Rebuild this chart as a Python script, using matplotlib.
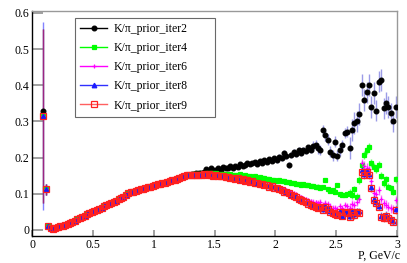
import numpy as np
import matplotlib
matplotlib.use('Agg')
import matplotlib.pyplot as plt
from matplotlib.lines import Line2D

plt.rcParams['font.family'] = ['Liberation Serif', 'DejaVu Serif']

# first three bins (P = 0.09, 0.11, 0.13)
head_iter2 = [0.330, 0.113, 0.012]
head_other = [0.315, 0.113, 0.012]

# P = 0.15 ... 1.29, all iterations agree here
low_common = [
    .005, .004, .005, .007, .010, .012, .015, .017, .020, .023,
    .026, .029, .033, .036, .039, .043, .046, .049, .052, .055,
    .059, .062, .065, .068, .072, .075, .078, .081, .085, .088,
    .092, .096, .101, .104, .106, .108, .110, .112, .114, .116,
    .118, .120, .122, .124, .126, .127, .129, .131, .133, .135,
    .137, .139, .141, .143, .146, .149, .151, .152,
]

# P = 1.31 ... 2.99
high_iter2 = [
    .155, .156, .157, .157, .158, .160, .168, .163, .170, .165,
    .167, .171, .166, .175, .170, .172, .176, .171, .178, .175,
    .182, .176, .180, .185, .181, .184, .188, .183, .190, .186,
    .193, .189, .196, .192, .198, .194, .203, .199, .212, .204,
    .180, .208, .215, .210, .220, .213, .222, .217, .228, .221,
    .232, .235, .226, .221, .276, .262, .249, .216, .207, .244,
    .205, .220, .235, .268, .272, .226, .276, .295, .300, .320,
    .400, .360, .380, .400, .340, .378, .330, .410, .414, .336,
    .350, .340, .322, .300, .340,
]
high_iter4 = [
    .153, .154, .154, .155, .155, .156, .157, .157, .158, .157,
    .157, .156, .155, .154, .155, .153, .154, .152, .153, .151,
    .155, .150, .151, .149, .150, .147, .148, .145, .146, .143,
    .144, .140, .141, .138, .139, .136, .137, .134, .135, .132,
    .133, .129, .130, .127, .128, .125, .126, .123, .124, .121,
    .122, .119, .120, .116, .118, .138, .112, .108, .110, .106,
    .124, .100, .098, .097, .099, .103, .096, .112, .092, .138,
    .180, .207, .220, .230, .185, .175, .168, .180, .150, .130,
    .140, .120, .115, .106, .140,
]
high_iter6 = [
    .152, .153, .153, .153, .152, .154, .153, .155, .153, .151,
    .152, .151, .149, .149, .147, .148, .145, .146, .142, .144,
    .140, .141, .138, .138, .135, .136, .132, .133, .130, .130,
    .127, .128, .124, .124, .121, .120, .117, .116, .112, .110,
    .108, .104, .102, .099, .094, .092, .089, .086, .084, .081,
    .078, .076, .074, .077, .069, .075, .071, .066, .062, .060,
    .058, .066, .060, .069, .066, .062, .071, .069, .078, .087,
    .184, .178, .172, .168, .135, .102, .100, .110, .085, .074,
    .070, .064, .060, .058, .083,
]
high_iter8 = [
    .152, .153, .153, .153, .151, .154, .152, .155, .153, .151,
    .152, .150, .149, .149, .146, .147, .145, .145, .141, .143,
    .139, .140, .136, .137, .134, .134, .130, .131, .128, .128,
    .125, .125, .121, .121, .118, .116, .113, .111, .107, .105,
    .102, .098, .095, .091, .087, .083, .080, .077, .074, .071,
    .068, .066, .063, .066, .057, .066, .060, .052, .048, .046,
    .043, .052, .040, .052, .048, .039, .052, .043, .052, .052,
    .165, .156, .164, .155, .118, .086, .077, .067, .040, .035,
    .042, .035, .031, .026, .058,
]
high_iter9 = [
    .152, .153, .152, .153, .151, .154, .152, .155, .153, .150,
    .152, .150, .148, .149, .146, .147, .144, .145, .141, .143,
    .138, .140, .136, .137, .133, .134, .130, .131, .127, .128,
    .124, .125, .120, .121, .117, .115, .112, .110, .106, .104,
    .101, .097, .094, .090, .085, .082, .079, .076, .073, .070,
    .067, .064, .062, .064, .055, .064, .058, .050, .046, .044,
    .041, .050, .038, .050, .046, .037, .050, .041, .050, .048,
    .161, .152, .161, .152, .115, .083, .074, .064, .037, .032,
    .040, .032, .028, .023, .055,
]

# error size by momentum range (upper bounds)
err_bounds = [0.10, 0.12, 1.6, 2.0, 2.3, 2.6, 3.1]
err_iter2 = [0.005, 0.015, 0.002, 0.004, 0.008, 0.015, 0.03]
err_iter4 = [0.24, 0.015, 0.002, 0.003, 0.004, 0.006, 0.010]
err_iter6 = [0.24, 0.015, 0.002, 0.003, 0.005, 0.008, 0.012]
err_iter8 = [0.26, 0.015, 0.002, 0.003, 0.004, 0.006, 0.010]
err_iter9 = [0.24, 0.015, 0.002, 0.003, 0.004, 0.006, 0.010]

labels = ['K/π_prior_iter2', 'K/π_prior_iter4', 'K/π_prior_iter6',
          'K/π_prior_iter8', 'K/π_prior_iter9']

series = [
    (head_iter2 + low_common + high_iter2, err_iter2),
    (head_other + low_common + high_iter4, err_iter4),
    (head_other + low_common + high_iter6, err_iter6),
    (head_other + low_common + high_iter8, err_iter8),
    (head_other + low_common + high_iter9, err_iter9),
]
for vals, _ in series:
    assert len(vals) == 146, len(vals)

styles = [
    dict(marker='o', mfc='black', mec='black', ms=3.4, ecolor='#5a5ad8', line='black'),
    dict(marker='s', mfc='#00ff00', mec='#00ff00', ms=3.2, ecolor='#00ff00', line='#00ff00'),
    dict(marker='+', mfc='#ff00ff', mec='#ff00ff', ms=3.2, ecolor='#ff00ff', line='#ff00ff'),
    dict(marker='^', mfc='#1a1aff', mec='#1a1aff', ms=3.3, ecolor='#3030ff', line='#3030ff'),
    dict(marker='s', mfc='none', mec='#ff2020', ms=3.8, ecolor='#c01040', line='#ff6060'),
]

fig = plt.figure(figsize=(4.07, 2.63), dpi=100)
ax = fig.add_axes([0.0794, 0.1027, 0.8960, 0.8566])

for (vals, errs), st in zip(series, styles):
    p = np.round(0.09 + 0.02 * np.arange(len(vals)), 2)
    e = np.array(errs)[np.searchsorted(err_bounds, p)]
    ax.errorbar(p, vals, yerr=e, fmt='none', ecolor=st['ecolor'], elinewidth=1.0, alpha=0.6, zorder=2)
    ax.plot(p, vals, ls='none', marker=st['marker'], ms=st['ms'], mfc=st['mfc'], mec=st['mec'],
            mew=0.9, zorder=3)

ax.set_xlim(0, 3.0)
ax.set_ylim(-0.0166, 0.606)
ax.set_xticks([0, 0.5, 1, 1.5, 2, 2.5, 3])
ax.set_xticklabels(['0', '0.5', '1', '1.5', '2', '2.5', '3'])
ax.set_yticks([0, 0.1, 0.2, 0.3, 0.4, 0.5, 0.6])
ax.set_yticklabels(['0', '0.1', '0.2', '0.3', '0.4', '0.5', '0.6'])
ax.tick_params(axis='both', direction='in', color='#999999', width=1.3, labelsize=8.5, pad=2)
ax.tick_params(axis='y', length=8)
ax.tick_params(axis='x', length=4.5)
for side in ['left', 'bottom']:
    ax.spines[side].set_color('black')
    ax.spines[side].set_linewidth(1.0)
for side in ['top', 'right']:
    ax.spines[side].set_color('#999999')
    ax.spines[side].set_linewidth(1.0)

fig.text(0.983, 0.027, 'P, GeV/c', ha='right', va='center', fontsize=8.5)

handles = [Line2D([], [], color=st['line'], lw=1.0, marker=st['marker'], ms=st['ms'],
                  mfc=st['mfc'], mec=st['mec'], mew=0.9) for st in styles]
leg = ax.legend(handles, labels, loc='upper left', bbox_to_anchor=(0.117, 0.5, 0.384, 0.468),
                mode='expand', borderaxespad=0, fontsize=8.5, frameon=True, fancybox=False,
                handlelength=2.3, handletextpad=0.5, labelspacing=0.6, borderpad=0.45)
leg.get_frame().set_edgecolor('#444444')
leg.get_frame().set_linewidth(0.8)

plt.savefig('out.png', dpi=100)
plt.close()
